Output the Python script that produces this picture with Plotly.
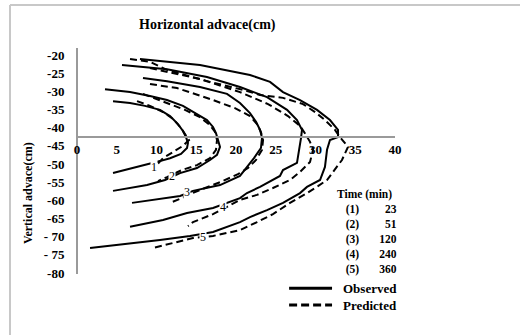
import plotly.graph_objects as go

# ---------------- data ----------------
obs1_x = [4.53, 6.67, 8.55, 10.44, 11.70, 12.70, 13.33, 13.71, 13.96, 13.84, 13.08, 11.70, 10.44, 8.55, 6.04, 4.53]
obs1_y = [-32.7, -33.2, -34.0, -35.1, -36.8, -39.0, -40.9, -42.6, -44.2, -45.6, -47.25, -48.4, -49.2, -50.3, -51.65, -52.5]
pre1_x = [7.55, 9.18, 10.82, 12.08, 13.08, 13.71, 14.09, 13.33, 12.08, 10.82, 9.43]
pre1_y = [-32.7, -34.0, -35.7, -37.6, -40.1, -42.0, -43.4, -45.0, -46.7, -48.4, -51.65]

obs2_x = [3.52, 6.67, 9.18, 11.32, 13.33, 14.84, 16.35, 17.11, 17.48, 17.74, 17.99, 17.61, 16.73, 15.09, 12.96, 11.07, 8.81, 4.53]
obs2_y = [-29.4, -30.2, -31.3, -32.4, -34.0, -36.0, -37.9, -39.8, -41.5, -43.4, -45.3, -47.5, -48.9, -51.1, -52.5, -54.4, -55.8, -57.4]
pre2_x = [8.30, 11.07, 13.58, 15.47, 16.73, 17.36, 17.61, 17.48, 16.73, 15.09, 13.21, 11.32, 10.19]
pre2_y = [-30.7, -32.9, -35.1, -37.1, -39.3, -41.2, -43.4, -46.1, -48.4, -50.3, -51.65, -53.6, -54.7]

obs3_x = [8.30, 11.32, 15.47, 18.87, 20.50, 21.76, 22.52, 23.02, 23.27, 23.14, 22.26, 21.26, 20.50, 17.99, 14.59, 12.96, 10.82, 6.92]
obs3_y = [-26.3, -27.2, -28.8, -30.7, -33.2, -36.0, -38.4, -40.6, -42.8, -45.6, -48.4, -51.1, -53.3, -55.8, -57.4, -58.8, -59.4, -60.7]
pre3_x = [9.18, 12.58, 16.73, 19.87, 21.76, 22.64, 23.14, 23.40, 23.27, 22.52, 21.51, 20.25, 17.99, 14.84, 12.96, 11.70]
pre3_y = [-28.0, -29.1, -32.1, -34.6, -36.8, -39.0, -41.2, -43.4, -46.1, -48.9, -51.1, -52.8, -55.0, -57.7, -59.6, -60.7]

obs4_x = [5.66, 11.32, 16.35, 20.50, 23.90, 26.42, 27.67, 28.30, 28.18, 27.92, 27.67, 25.91, 25.53, 23.02, 21.38, 20.50, 17.11, 13.84, 10.82, 6.67]
obs4_y = [-22.75, -23.9, -26.05, -28.8, -31.6, -35.1, -37.9, -40.6, -42.8, -46.1, -49.7, -51.65, -53.3, -56.3, -58.0, -59.4, -62.1, -63.5, -65.4, -67.3]
pre4_x = [9.18, 15.47, 20.50, 24.03, 26.54, 28.05, 28.81, 29.31, 29.69, 29.31, 28.05, 26.79, 24.65, 22.64, 20.50, 17.11, 14.59, 13.96]
pre4_y = [-23.6, -26.6, -30.2, -33.5, -36.8, -39.5, -42.0, -43.9, -46.1, -49.45, -52.2, -54.4, -56.6, -58.5, -59.9, -63.8, -66.0, -67.1]

obs5_x = [7.92, 15.47, 21.76, 24.28, 25.91, 28.05, 30.19, 31.82, 32.83, 32.83, 31.82, 31.45, 31.19, 30.57, 28.93, 28.05, 25.91, 23.90, 21.76, 20.50, 17.11, 14.21, 10.44, 1.64]
obs5_y = [-21.1, -22.75, -25.5, -27.4, -30.2, -32.4, -35.1, -37.9, -40.6, -42.6, -43.4, -46.1, -50.8, -54.4, -56.3, -58.0, -60.7, -62.7, -64.6, -66.0, -68.7, -69.8, -70.9, -73.1]
pre5_x = [6.67, 9.18, 11.32, 16.73, 20.88, 23.02, 25.91, 28.43, 29.94, 31.19, 32.45, 33.08, 34.09, 33.33, 32.20, 31.45, 30.31, 28.93, 26.79, 24.65, 22.64, 20.50, 17.11, 14.59, 9.56]
pre5_y = [-21.1, -21.9, -24.1, -27.4, -29.6, -31.0, -31.8, -33.5, -35.7, -37.9, -40.6, -42.6, -45.3, -48.9, -52.2, -54.4, -56.1, -58.0, -60.7, -63.8, -66.0, -68.2, -69.8, -70.4, -73.1]

curve_labels = ["1", "2", "3", "4", "5"]
label_x = [9.70, 11.95, 13.84, 18.37, 15.85]
label_y = [-50.8, -53.3, -57.7, -61.9, -70.1]

x_ticks = [0, 5, 10, 15, 20, 25, 30, 35, 40]
y_ticks = [-20, -25, -30, -35, -40, -45, -50, -55, -60, -65, -70, -75, -80]
y_ticktext = ["-20", "-25", "-30", "-35", "-40", "-45", "-50", "-55", "-60", "-65", "- 70", "- 75", "-80"]

time_ids = ["(1)", "(2)", "(3)", "(4)", "(5)"]
time_min = ["23", "51", "120", "240", "360"]

# ---------------- figure ----------------
SERIF = "Liberation Serif"
NB = "\u00a0"
fig = go.Figure()

observed = [(obs1_x, obs1_y), (obs2_x, obs2_y), (obs3_x, obs3_y), (obs4_x, obs4_y), (obs5_x, obs5_y)]
predicted = [(pre1_x, pre1_y), (pre2_x, pre2_y), (pre3_x, pre3_y), (pre4_x, pre4_y), (pre5_x, pre5_y)]

for xs, ys in predicted:
    fig.add_trace(go.Scatter(x=xs, y=ys, mode="lines",
                             line=dict(color="black", width=2, dash="7px,4px"),
                             hoverinfo="skip"))
for xs, ys in observed:
    fig.add_trace(go.Scatter(x=xs, y=ys, mode="lines",
                             line=dict(color="black", width=2),
                             hoverinfo="skip"))

for t, lx, ly in zip(curve_labels, label_x, label_y):
    fig.add_annotation(x=lx, y=ly, text=t, showarrow=False, xref="x", yref="y",
                       xanchor="center", yanchor="middle",
                       font=dict(family=SERIF, size=12, color="black"),
                       bgcolor="white", borderpad=0)


def note(x, y, text, size=14, angle=0, xanchor="center", align="center"):
    fig.add_annotation(x=x, y=y, xref="paper", yref="paper", showarrow=False,
                       xanchor=xanchor, yanchor="middle", align=align,
                       text=text, textangle=angle,
                       font=dict(family=SERIF, size=size, color="black"))


# title and axis title
note(0.409, 1.102, "<b>Horizontal advace(cm)</b>", 14)
note(-0.154, 0.358, "<b>Vertical advace(cm)</b>", 12, -90)

# time table (one multi-line block)
rows = ["Time (min)"]
for tid, tm in zip(time_ids, time_min):
    gap = NB * (9 if len(tm) == 2 else 7)
    rows.append(NB * 3 + tid + gap + tm)
note(0.811, 0.184, "<b>" + "<br>".join(rows) + "</b>", 11.5, xanchor="left", align="left")

# legend
fig.add_shape(type="line", xref="paper", yref="paper", x0=0.667, x1=0.802, y0=-0.063, y1=-0.063,
              line=dict(color="black", width=3))
fig.add_shape(type="line", xref="paper", yref="paper", x0=0.667, x1=0.802, y0=-0.137, y1=-0.137,
              line=dict(color="black", width=3, dash="8px,4px"))
note(0.830, -0.100, "<b>Observed<br>Predicted</b>", 13, xanchor="left", align="left")

# outer frame (top and left edges)
fig.add_shape(type="line", xref="paper", yref="paper", x0=-0.2107, x1=1.40, y0=1.19, y1=1.19,
              line=dict(color="#c8c8c8", width=2))
fig.add_shape(type="line", xref="paper", yref="paper", x0=-0.2107, x1=-0.2107, y0=1.19, y1=-0.30,
              line=dict(color="#c8c8c8", width=2))

fig.update_layout(
    width=520, height=335, autosize=False,
    margin=dict(l=77, r=125, t=48, b=61),
    paper_bgcolor="white", plot_bgcolor="white",
    showlegend=False,
    xaxis=dict(range=[0, 40], tickvals=x_ticks, ticktext=[str(v) for v in x_ticks],
               showgrid=False, zeroline=False, showline=True, linecolor="#9a9a9a", linewidth=1.5,
               anchor="free", position=0.6057, ticks="", ticklabelstandoff=1,
               tickfont=dict(family=SERIF, size=13, color="black", weight="bold")),
    yaxis=dict(range=[-80.28, -18.07], tickvals=y_ticks, ticktext=y_ticktext,
               showgrid=False, zeroline=False, showline=True, linecolor="#9a9a9a", linewidth=2,
               anchor="free", position=0, ticks="", ticklabelstandoff=9,
               tickfont=dict(family=SERIF, size=13, color="black", weight="bold")),
)

fig.write_html("out.html")
